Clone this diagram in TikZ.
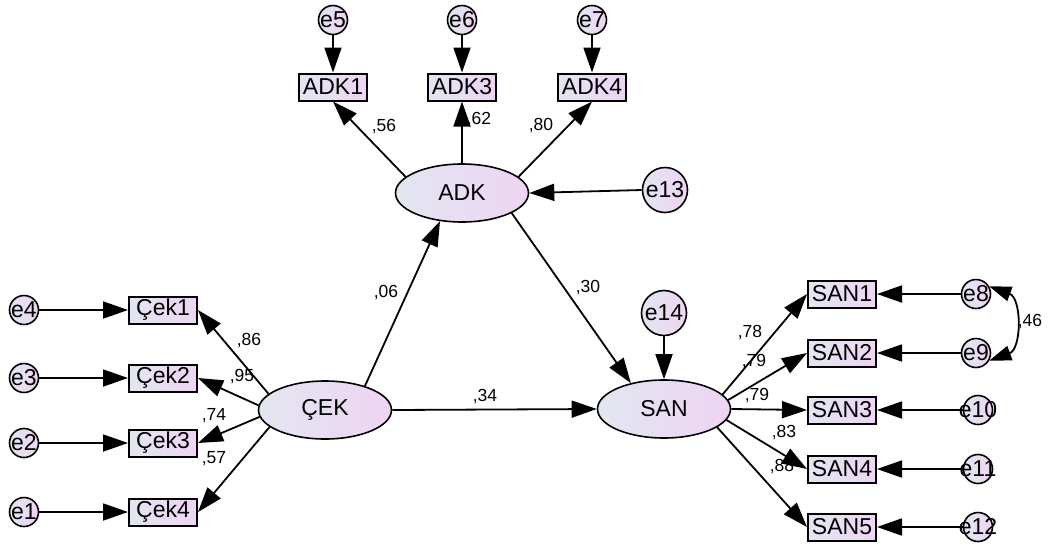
\documentclass[tikz,border=0pt]{standalone}
\usepackage{fontspec}
\setmainfont{Liberation Sans}
\usetikzlibrary{arrows.meta,shapes.geometric}
\definecolor{semleft}{RGB}{226,230,240}
\definecolor{semright}{RGB}{238,212,243}
\tikzset{
latent/.style={ellipse,draw,line width=1.6pt,minimum width=133pt,minimum height=58pt,inner sep=0pt,left color=semleft,right color=semright,font=\fontsize{23}{25}\selectfont},
observed/.style={rectangle,draw,line width=2pt,minimum width=68pt,minimum height=27pt,inner sep=0pt,left color=semleft,right color=semright,font=\fontsize{23}{25}\selectfont},
err/.style={circle,draw,line width=1.6pt,minimum size=29pt,inner sep=0pt,left color=semleft,right color=semright,font=\fontsize{23}{25}\selectfont},
bigerr/.style={err,minimum size=45pt},
effect/.style={line width=1.8pt,-{Triangle[length=25pt,width=17pt]}},
coef/.style={inner sep=0pt,font=\fontsize{17.5}{19}\selectfont},
}
\newcommand{\errtext}[1]{\makebox[0pt]{#1}}

\begin{document}
\begin{tikzpicture}[x=1pt,y=-1pt]
\useasboundingbox (0,0) rectangle (1049,550);
% latent variables
\node[latent] (adk) at (462,193) {ADK};
\node[latent] (cek) at (325,410) {ÇEK};
\node[latent] (san) at (664,409) {SAN};
% indicators
\node[observed] (adk1) at (333,87) {ADK1};
\node[observed] (adk3) at (462,87) {ADK3};
\node[observed] (adk4) at (592,87) {ADK4};
\node[observed] (cek1) at (163,310) {Çek1};
\node[observed] (cek2) at (163,378) {Çek2};
\node[observed] (cek3) at (163,443) {Çek3};
\node[observed] (cek4) at (163,512) {Çek4};
\node[observed] (san1) at (842,294) {SAN1};
\node[observed] (san2) at (842,353) {SAN2};
\node[observed] (san3) at (842,410) {SAN3};
\node[observed] (san4) at (842,469) {SAN4};
\node[observed] (san5) at (842,527) {SAN5};
% errors
\node[err] (e5) at (333,20) {\errtext{e5}};
\node[err] (e6) at (462,20) {\errtext{e6}};
\node[err] (e7) at (592,20) {\errtext{e7}};
\node[err] (e4) at (24,310) {\errtext{e4}};
\node[err] (e3) at (24,378) {\errtext{e3}};
\node[err] (e2) at (24,443) {\errtext{e2}};
\node[err] (e1) at (24,512) {\errtext{e1}};
\node[err] (e8) at (976,294) {\errtext{e8}};
\node[err] (e9) at (976,353) {\errtext{e9}};
\node[err] (e10) at (978,410) {\errtext{e10}};
\node[err] (e11) at (978,469) {\errtext{e11}};
\node[err] (e12) at (978,527) {\errtext{e12}};
\node[bigerr] (e13) at (665,190) {e13};
\node[bigerr] (e14) at (664,313) {e14};
% coefficients
\node[coef] (c56) at (384,127) {,56};
\node[coef] (c62) at (479,120) {,62};
\node[coef] (c80) at (541,126) {,80};
\node[coef] (c06) at (386,293) {,06};
\node[coef] (c30) at (588,288) {,30};
\node[coef] (c34) at (485,396) {,34};
\node[coef] (c86) at (249,341) {,86};
\node[coef] (c95) at (242,376) {,95};
\node[coef] (c74) at (214,416) {,74};
\node[coef] (c57) at (214,459) {,57};
\node[coef] (c78) at (750,332) {,78};
\node[coef] (c79a) at (754,361) {,79};
\node[coef] (c79b) at (757,395) {,79};
\node[coef] (c83) at (784,432) {,83};
\node[coef] (c88) at (782,466) {,88};
\node[coef] (c46) at (1030,322) {,46};
% structural paths
\draw[effect] (cek.31) -- (adk.232);
\draw[effect] (adk.-22) -- (san.142);
\draw[effect] (cek.east) -- (san.west);
\draw[effect] (e13.west) -- (adk.east);
\draw[effect] (e14.south) -- (san.north);
% loadings
\draw[effect] (adk.164) -- (adk1.south);
\draw[effect] (adk.north) -- (adk3.south);
\draw[effect] (adk.16) -- (adk4.south);
\draw[effect] (cek.164) -- (cek1.east);
\draw[effect] (cek.176) -- (cek2.east);
\draw[effect] (cek.186) -- (cek3.east);
\draw[effect] (cek.197) -- (cek4.east);
\draw[effect] (san.14) -- (san1.west);
\draw[effect] (san.8) -- (san2.west);
\draw[effect] (san.east) -- (san3.west);
\draw[effect] (san.-10) -- (san4.west);
\draw[effect] (san.-19) -- (san5.west);
% measurement errors
\draw[effect] (e5.south) -- (adk1.north);
\draw[effect] (e6.south) -- (adk3.north);
\draw[effect] (e7.south) -- (adk4.north);
\draw[effect] (e4.east) -- (cek1.west);
\draw[effect] (e3.east) -- (cek2.west);
\draw[effect] (e2.east) -- (cek3.west);
\draw[effect] (e1.east) -- (cek4.west);
\draw[effect] (e8.west) -- (san1.east);
\draw[effect] (e9.west) -- (san2.east);
\draw[effect] (e10.west) -- (san3.east);
\draw[effect] (e11.west) -- (san4.east);
\draw[effect] (e12.west) -- (san5.east);
% covariance
\draw[line width=1.8pt,{Triangle[length=22pt,width=15pt]}-{Triangle[length=22pt,width=15pt]}] (e8.30) to[out=-20,in=20,looseness=1.2] (e9.-30);
\end{tikzpicture}
\end{document}
